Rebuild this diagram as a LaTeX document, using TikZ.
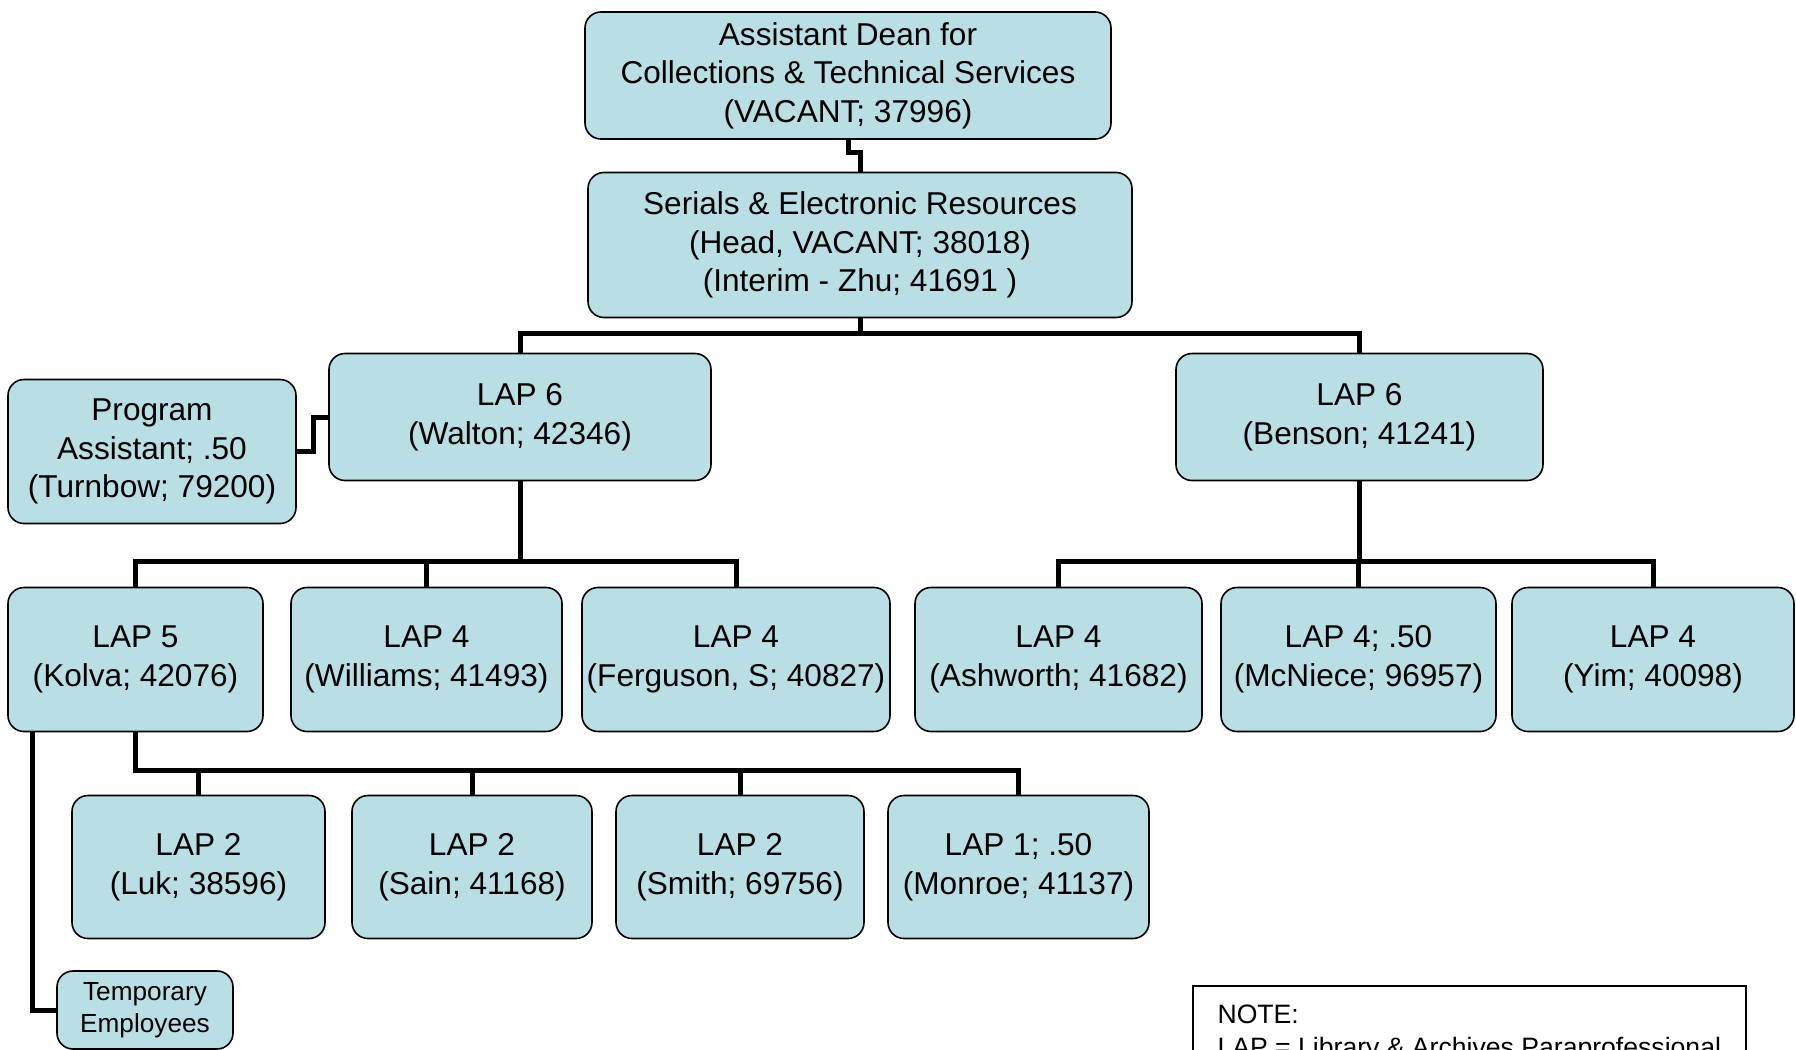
\documentclass[tikz,border=0pt]{standalone}
\usepackage{fontspec}
\setmainfont{Liberation Sans}
\usetikzlibrary{positioning}
\definecolor{boxblue}{RGB}{185,223,228}

\begin{document}
\begin{tikzpicture}[x=0.5pt,y=-0.5pt,link/.style={line width=2.5pt}]
\tikzstyle{box}=[draw, fill=boxblue, rounded corners=8pt, align=center, inner sep=0pt, line width=0.8pt, font=\fontsize{15.8}{19.3}\selectfont]
\tikzstyle{smallbox}=[box, font=\fontsize{13.1}{16}\selectfont]
\useasboundingbox (0,0) rectangle (1796,1050);
\clip (0,0) rectangle (1796,1050);
% top of the chart
\node[box, minimum width=263pt, minimum height=63.5pt] (dean) at (848,75.5){Assistant Dean for\\Collections \& Technical Services\\(VACANT; 37996)};
\node[box, minimum width=272pt, minimum height=72.5pt] (serials) at (860,245){Serials \& Electronic Resources\\(Head, VACANT; 38018)\\(Interim - Zhu; 41691 )};
\node[box, minimum width=191pt, minimum height=63.5pt] (walton) at (520,417){LAP 6\\(Walton; 42346)};
\node[box, minimum width=183.5pt, minimum height=63.5pt] (benson) at (1359.5,417){LAP 6\\(Benson; 41241)};
\node[box, minimum width=144pt, minimum height=72pt] (progasst) at (152,451.5){Program\\Assistant; .50\\(Turnbow; 79200)};
% LAP 4/5 row
\node[box, minimum width=127.5pt, minimum height=72pt] (kolva) at (135.5,659.5){LAP 5\\(Kolva; 42076)};
\node[box, minimum width=135.5pt, minimum height=72pt] (williams) at (426.5,659.5){LAP 4\\(Williams; 41493)};
\node[box, minimum width=154pt, minimum height=72pt] (ferguson) at (736,659.5){LAP 4\\(Ferguson, S; 40827)};
\node[box, minimum width=143.5pt, minimum height=72pt] (ashworth) at (1058.5,659.5){LAP 4\\(Ashworth; 41682)};
\node[box, minimum width=137.5pt, minimum height=72pt] (mcniece) at (1358.5,659.5){LAP 4; .50\\(McNiece; 96957)};
\node[box, minimum width=141pt, minimum height=72pt] (yim) at (1653,659.5){LAP 4\\(Yim; 40098)};
% LAP 1/2 row
\node[box, minimum width=126.5pt, minimum height=71.5pt] (luk) at (198.5,867){LAP 2\\(Luk; 38596)};
\node[box, minimum width=120pt, minimum height=71.5pt] (sain) at (472,867){LAP 2\\(Sain; 41168)};
\node[box, minimum width=124pt, minimum height=71.5pt] (smith) at (740,867){LAP 2\\(Smith; 69756)};
\node[box, minimum width=130.5pt, minimum height=71.5pt] (monroe) at (1018.5,867){LAP 1; .50\\(Monroe; 41137)};
\node[smallbox, minimum width=88pt, minimum height=39pt] (temp) at (145,1010){Temporary\\Employees};
\node[draw, line width=0.8pt, anchor=north west, align=left, inner xsep=10.5pt, inner ysep=9.5pt, minimum width=276.5pt, text depth=20pt, font=\fontsize{13.3}{16.5}\selectfont] (note) at (1192,985){NOTE:\\LAP = Library \& Archives Paraprofessional};
% connectors
\coordinate (sbus) at (0,333);
\coordinate (lbus) at (0,561);
\coordinate (kbus) at (0,770);
\coordinate (tline) at (32,0);
\draw[link] (dean.south) -- ++(0,13) -| (serials.north);
\foreach \c in {walton,benson}{\draw[link] (serials.south) -- (serials.south |- sbus) -| (\c.north);}
\draw[link] (progasst.east) -- ++(17,0) |- (walton.west);
\foreach \p/\c in {walton/kolva,walton/williams,walton/ferguson,benson/ashworth,benson/mcniece,benson/yim}{\draw[link] (\p.south) -- (\p.south |- lbus) -| (\c.north);}
\foreach \c in {luk,sain,smith,monroe}{\draw[link] (kolva.south) -- (kolva.south |- kbus) -| (\c.north);}
\draw[link] (kolva.south -| tline) |- (temp.west);
\end{tikzpicture}
\end{document}
